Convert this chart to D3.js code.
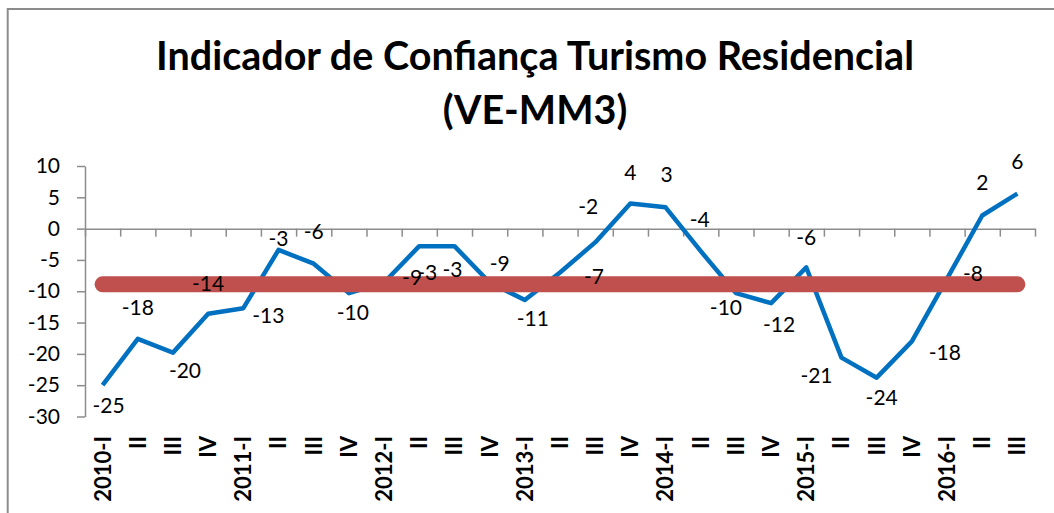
<!DOCTYPE html>
<html>
<head>
<meta charset="utf-8">
<script src="https://cdn.jsdelivr.net/npm/d3@7"></script>
<style>
  body { margin: 0; background: #fff; }
  svg { display: block; font-family: Lato, "Open Sans", sans-serif; }
</style>
</head>
<body>
<svg id="chart" width="1054" height="513"></svg>
<script>
// categories (quarters)
const quarters = [
    "2010-I", "II", "III", "IV",
    "2011-I", "II", "III", "IV",
    "2012-I", "II", "III", "IV",
    "2013-I", "II", "III", "IV",
    "2014-I", "II", "III", "IV",
    "2015-I", "II", "III", "IV",
    "2016-I", "II", "III"
];

// indicador, VE-MM3
const values = [
    -25.0, -17.6, -19.8, -13.6,
    -12.7, -3.4, -5.6, -10.3,
    -8.6, -2.8, -2.8, -8.6,
    -11.4, -7.0, -2.2, 4.0,
    3.4, -3.6, -10.3, -11.9,
    -6.2, -20.6, -23.8, -18.0,
    -8.0, 2.1, 5.6
];

// average line
const average = -8.9;

const yTicks = [-30, -25, -20, -15, -10, -5, 0, 5, 10];

// where each data label sits relative to its point [dx, dy]
const labelOffsets = [
    [6, 20], [0, -31], [12, 18], [0, -30],
    [25, 7], [0, -11], [0, -32], [4, 20],
    [28, -5], [8, 26], [-2, 23], [10, -19],
    [8, 19], [34, 4], [-7, -36], [0, -31],
    [1, -33], [-1, -32], [-10, 15], [8, 22],
    [0, -30], [-25, 18], [5, 20], [33, 11],
    [26, -5], [0, -33], [0, -32]
];

const svg = d3.select("#chart");

// chart border
svg.append("rect")
    .attr("x", 7.7).attr("y", 9)
    .attr("width", 1100).attr("height", 600)
    .attr("fill", "none")
    .attr("stroke", "#8c8c8c")
    .attr("stroke-width", 2);

// title
let title = svg.append("text")
    .attr("text-anchor", "middle")
    .attr("font-weight", "bold")
    .attr("font-size", 39.5)
    .attr("fill", "#000");
title.append("tspan").attr("x", 535).attr("y", 70).text("Indicador de Confiança Turismo Residencial");
title.append("tspan").attr("x", 535).attr("y", 124).text("(VE-MM3)");

const plotLeft = 85, plotRight = 1035;

let xBand = d3.scaleBand().domain(d3.range(quarters.length)).range([plotLeft, plotRight]);
let xCenter = i => xBand(i) + xBand.bandwidth() / 2;
let y = d3.scaleLinear().domain([-30, 10]).range([416.5, 166]);

// y axis
let yAxis = svg.append("g")
    .attr("transform", `translate(${plotLeft},0)`)
    .call(d3.axisLeft(y).tickValues(yTicks).tickSize(8).tickPadding(17).tickSizeOuter(0)
        .tickFormat(d => String(d)));
yAxis.select(".domain").attr("stroke", "#8c8c8c").attr("stroke-width", 1.5);
yAxis.selectAll(".tick line").attr("stroke", "#8c8c8c").attr("stroke-width", 1.5);
yAxis.selectAll(".tick text")
    .attr("font-family", "Lato, sans-serif")
    .attr("font-size", 21)
    .attr("fill", "#000");

// x axis at zero, ticks between categories
let xEdges = d3.scaleLinear().domain([0, quarters.length]).range([plotLeft, plotRight]);
let xAxis = svg.append("g")
    .attr("transform", `translate(0,${y(0)})`)
    .call(d3.axisBottom(xEdges).tickValues(d3.range(quarters.length + 1))
        .tickSize(8).tickSizeOuter(0).tickFormat(""));
xAxis.select(".domain").attr("stroke", "#8c8c8c").attr("stroke-width", 1.5);
xAxis.selectAll(".tick line").attr("stroke", "#8c8c8c").attr("stroke-width", 1.5);

// category labels at the bottom, rotated
svg.append("g").selectAll("text").data(quarters).join("text")
    .attr("transform", (d, i) => `translate(${xCenter(i)},436) rotate(-90)`)
    .attr("text-anchor", "end")
    .attr("dy", "0.36em")
    .attr("font-weight", "bold")
    .attr("font-size", 22)
    .attr("fill", "#000")
    .text(d => d);

// main series
let line = d3.line().x((d, i) => xCenter(i)).y(d => y(d));
svg.append("path")
    .datum(values)
    .attr("d", line)
    .attr("fill", "none")
    .attr("stroke", "#0070C0")
    .attr("stroke-width", 4.5)
    .attr("stroke-linejoin", "round");

// average band
svg.append("line")
    .attr("x1", xCenter(0)).attr("x2", xCenter(quarters.length - 1))
    .attr("y1", y(average)).attr("y2", y(average))
    .attr("stroke", "#C0504D")
    .attr("stroke-width", 16)
    .attr("stroke-linecap", "round");

// data labels
svg.append("g").selectAll("text").data(values).join("text")
    .attr("x", (d, i) => xCenter(i) + labelOffsets[i][0])
    .attr("y", (d, i) => y(d) + labelOffsets[i][1])
    .attr("dy", "0.35em")
    .attr("text-anchor", "middle")
    .attr("font-size", 21)
    .attr("fill", "#000")
    .text(d => String(Math.round(d)));
</script>
</body>
</html>
